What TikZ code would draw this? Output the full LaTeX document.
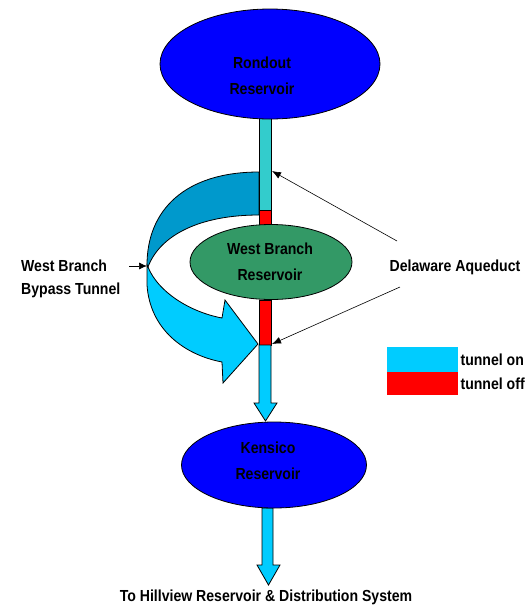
\documentclass[tikz,border=0pt]{standalone}
\usepackage{fontspec}
\newfontfamily\diagfont[FakeStretch=0.88]{Liberation Sans}
\usetikzlibrary{shapes.geometric, arrows.meta, positioning}

\definecolor{resblue}{RGB}{0,0,255}
\definecolor{resgreen}{RGB}{51,153,102}
\definecolor{tunnelteal}{RGB}{51,204,204}
\definecolor{tunnelon}{RGB}{0,204,255}
\definecolor{tunneloff}{RGB}{255,0,0}
\definecolor{bypassdark}{RGB}{0,153,204}

\tikzset{
  reservoir/.style={ellipse, draw=black, line width=0.8pt, inner sep=0pt},
  lbl/.style={font=\diagfont\bfseries\fontsize{16}{26}\selectfont, align=center, inner sep=0pt},
  pipe/.style={draw=black, line width=0.8pt},
  pointer/.style={-{Latex[length=9pt,width=7pt]}, line width=0.6pt},
  legendbox/.style={minimum width=71pt, inner sep=0pt, anchor=north west},
}

\begin{document}
\begin{tikzpicture}[x=1pt, y=-1pt]
    \useasboundingbox (0,0) rectangle (530,606);

    % bypass tunnel, back and front
    \filldraw[pipe, fill=bypassdark] (259,172) .. controls (185,172) and (147,210) .. (147,265)
        -- (148,267) .. controls (160,235) and (200,215) .. (259,215) -- cycle;
    \filldraw[pipe, fill=tunnelon] (147,265) -- (147,285) .. controls (150,330) and (185,355) .. (222,362)
        -- (223,383) -- (258,344) -- (225,300) -- (222,318)
        .. controls (190,312) and (158,292) .. (148,267) -- cycle;

    % aqueduct
    \filldraw[pipe, fill=tunnelteal] (259,118) rectangle (271,210);
    \filldraw[pipe, fill=tunneloff]  (259,210) rectangle (271,225);
    \filldraw[pipe, fill=tunneloff]  (259,300) rectangle (271,345);
    \filldraw[pipe, fill=tunnelon] (259,345) -- (271,345) -- (271,403) -- (277,403)
        -- (265.5,421) -- (254,403) -- (259,403) -- cycle;
    \filldraw[pipe, fill=tunnelon] (262,508) -- (273,508) -- (273,565) -- (280,565)
        -- (268.5,585) -- (257,565) -- (262,565) -- cycle;

    % reservoirs
    \node[reservoir, fill=resblue, minimum width=220pt, minimum height=110pt] (rondout) at (270,64) {};
    \node[reservoir, fill=resgreen, minimum width=162pt, minimum height=75pt] (westbranch) at (271,262) {};
    \node[reservoir, fill=resblue, minimum width=185pt, minimum height=86pt] (kensico) at (274,465) {};

    \node[lbl] (rondouttext)  at (262,76)  {Rondout\\Reservoir};
    \node[lbl] (wbtext)       at (270,262) {West Branch\\Reservoir};
    \node[lbl] (kensicotext)  at (268,461) {Kensico\\Reservoir};
    \node[lbl] (hillview)     at (266,597) {To Hillview Reservoir \& Distribution System};
    \node[lbl] (delaware)     at (455,267) {Delaware Aqueduct};
    \node[lbl, align=left, anchor=west, font=\diagfont\bfseries\fontsize{16}{23}\selectfont]
        (bypass) at (21,279) {West Branch\\Bypass Tunnel};

    % legend
    \node[legendbox, fill=tunnelon, minimum height=25pt]  (legon)  at (387,347) {};
    \node[legendbox, fill=tunneloff, minimum height=23pt] (legoff) at (387,372) {};
    \node[lbl, anchor=west, right=2pt of legon]  (ontext)  {tunnel on};
    \node[lbl, anchor=west, right=2pt of legoff] (offtext) {tunnel off};

    % pointers
    \coordinate (inlet)    at (272,171);
    \coordinate (outlet)   at (272,344);
    \coordinate (dtail1)   at (397,241);
    \coordinate (dtail2)   at (400,287);
    \coordinate (bptail)   at (129,266);
    \coordinate (bypasstip) at (147,266);
    \draw[pointer] (dtail1) -- (inlet);
    \draw[pointer] (dtail2) -- (outlet);
    \draw[pointer, -{Latex[length=8pt,width=7pt]}] (bptail) -- (bypasstip);
\end{tikzpicture}
\end{document}
